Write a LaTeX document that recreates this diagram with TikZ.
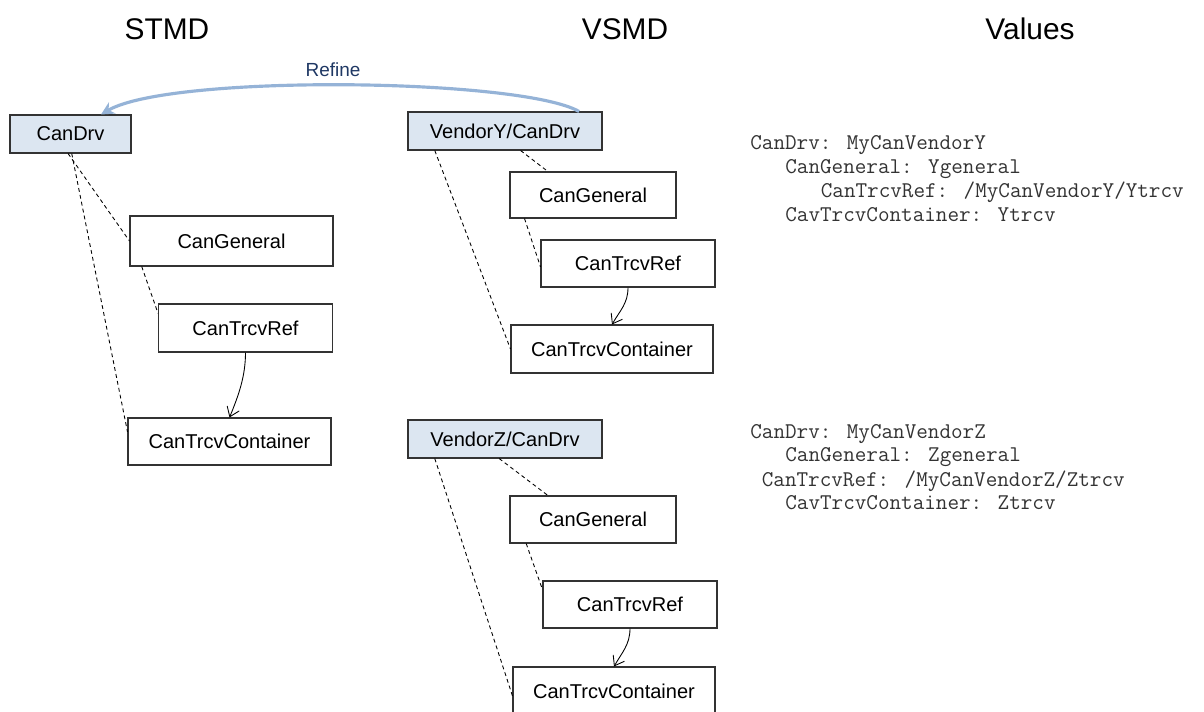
\documentclass[tikz,border=0pt]{standalone}
\usepackage{fontspec}
\setmainfont{Liberation Sans}
\usetikzlibrary{calc,arrows.meta}

\definecolor{boxblue}{HTML}{DCE6F1}
\definecolor{refineline}{HTML}{95B3D7}
\definecolor{refinetext}{HTML}{1F3864}

\tikzset{
  module/.style={draw=black!80, line width=0.6pt, inner sep=0pt,
    font=\fontsize{11.4}{13}\selectfont},
  topmodule/.style={module, fill=boxblue},
  heading/.style={font=\fontsize{17}{20}\selectfont},
  member/.style={line width=0.5pt, dash pattern=on 2.2pt off 1.8pt},
  refer/.style={line width=0.5pt, -{Straight Barb[length=1.8mm,width=2.6mm]}},
  refine/.style={refineline, line width=1.8pt, -{Stealth[length=2.6mm,width=2.6mm]}},
  valueline/.style={anchor=base west, inner sep=0pt, text=black!80,
    font=\ttfamily\fontsize{12.8}{14}\selectfont}
}

\begin{document}
\begin{tikzpicture}[x=0.02cm, y=-0.02cm]
    \useasboundingbox (0,0) rectangle (1204,711);

    % headings
    \node[heading] (stmd) at (167,29) {STMD};
    \node[heading] (vsmd) at (625,29) {VSMD};
    \node[heading] (vals) at (1030,29) {Values};

    % STMD
    \node[topmodule, minimum width=2.42cm, minimum height=0.76cm] (stDrv) at (70.5,134) {CanDrv};
    \node[module, minimum width=4.06cm, minimum height=1.0cm] (stGen) at (231.5,241) {CanGeneral};
    \node[module, minimum width=3.48cm, minimum height=0.96cm] (stRef) at (245.5,328) {CanTrcvRef};
    \node[module, minimum width=4.06cm, minimum height=0.94cm] (stCont) at (229.5,441.5) {CanTrcvContainer};

    \draw[member] ($(stDrv.south west)!0.48!(stDrv.south east)$) -- (stGen.west);
    \draw[member] ($(stDrv.south west)!0.51!(stDrv.south east)$) -- ($(stCont.north west)!0.3!(stCont.south west)$);
    \draw[member] ($(stGen.south west)!0.06!(stGen.south east)$) -- ($(stRef.north west)!0.2!(stRef.south west)$);
    \draw[refer] (stRef.south) .. controls +(0,24) and +(9,-22) .. (stCont.north);

    % VSMD, vendor Y
    \node[topmodule, minimum width=3.88cm, minimum height=0.76cm] (vyDrv) at (505,131) {VendorY/CanDrv};
    \node[module, minimum width=3.32cm, minimum height=0.92cm] (vyGen) at (593,195) {CanGeneral};
    \node[module, minimum width=3.48cm, minimum height=0.94cm] (vyRef) at (628,263.5) {CanTrcvRef};
    \node[module, minimum width=4.04cm, minimum height=0.96cm] (vyCont) at (612,349) {CanTrcvContainer};

    \draw[member] ($(vyDrv.south west)!0.58!(vyDrv.south east)$) -- ($(vyGen.north west)!0.23!(vyGen.north east)$);
    \draw[member] ($(vyDrv.south west)!0.14!(vyDrv.south east)$) -- (vyCont.west);
    \draw[member] ($(vyGen.south west)!0.09!(vyGen.south east)$) -- ($(vyRef.north west)!0.57!(vyRef.south west)$);
    \draw[refer] (vyRef.south) .. controls +(0,16) and +(8,-14) .. (vyCont.north);

    % VSMD, vendor Z
    \node[topmodule, minimum width=3.88cm, minimum height=0.76cm] (vzDrv) at (505,439) {VendorZ/CanDrv};
    \node[module, minimum width=3.32cm, minimum height=0.94cm] (vzGen) at (593,519.5) {CanGeneral};
    \node[module, minimum width=3.48cm, minimum height=0.94cm] (vzRef) at (630,604.5) {CanTrcvRef};
    \node[module, minimum width=4.04cm, minimum height=0.96cm] (vzCont) at (614,691) {CanTrcvContainer};

    \draw[member] ($(vzDrv.south west)!0.47!(vzDrv.south east)$) -- ($(vzGen.north west)!0.23!(vzGen.north east)$);
    \draw[member] ($(vzDrv.south west)!0.14!(vzDrv.south east)$) -- ($(vzCont.north west)!0.6!(vzCont.south west)$);
    \draw[member] ($(vzGen.south west)!0.1!(vzGen.south east)$) -- ($(vzRef.north west)!0.19!(vzRef.south west)$);
    \draw[refer] (vzRef.south) .. controls +(0,16) and +(8,-14) .. (vzCont.north);

    % refine arrow
    \draw[refine] ($(vyDrv.north west)!0.88!(vyDrv.north east)$) .. controls (520,78) and (170,74) .. ($(stDrv.north west)!0.75!(stDrv.north east)$);
    \node[text=refinetext, font=\fontsize{10.8}{13}\selectfont] (refine) at (333,70) {Refine};

    % values
    \node[valueline] (y1) at (750,149) {CanDrv: MyCanVendorY};
    \node[valueline] (y2) at (785,173) {CanGeneral: Ygeneral};
    \node[valueline] (y3) at (820.5,197.5) {CanTrcvRef: /MyCanVendorY/Ytrcv};
    \node[valueline] (y4) at (785,221) {CavTrcvContainer: Ytrcv};

    \node[valueline] (z1) at (750,438) {CanDrv: MyCanVendorZ};
    \node[valueline] (z2) at (785,461) {CanGeneral: Zgeneral};
    \node[valueline] (z3) at (761.5,486) {CanTrcvRef: /MyCanVendorZ/Ztrcv};
    \node[valueline] (z4) at (785,509) {CavTrcvContainer: Ztrcv};
\end{tikzpicture}
\end{document}
